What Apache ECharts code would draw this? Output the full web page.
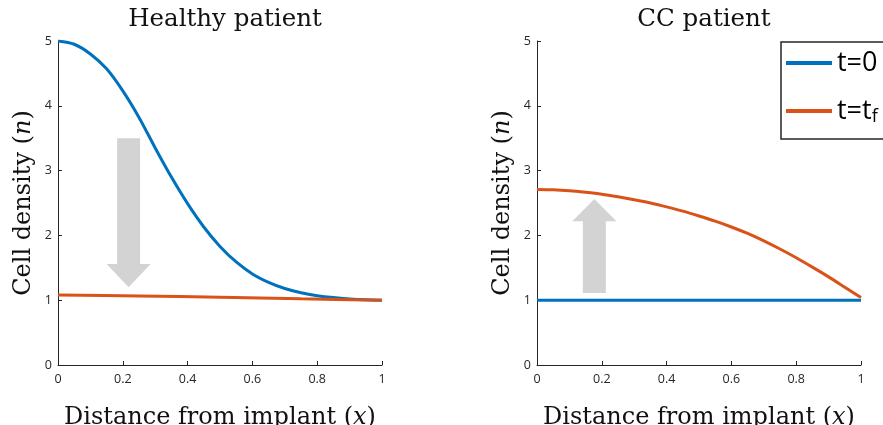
<!DOCTYPE html>
<html>
<head>
<meta charset="utf-8">
<script src="https://cdn.jsdelivr.net/npm/echarts@6/dist/echarts.min.js"></script>
<style>
html,body{margin:0;padding:0;background:#fff;}
#chart{width:883px;height:425px;}
</style>
</head>
<body>
<div id="chart"></div>
<script>
// ---- data ----
const panelTitles = ['Healthy patient', 'CC patient'];
const seriesNames = ['t=0', 't=t_f'];
const xs = [0, 0.05, 0.1, 0.15, 0.2, 0.25, 0.3, 0.35, 0.4, 0.45, 0.5, 0.55, 0.6, 0.65, 0.7, 0.75, 0.8, 0.85, 0.9, 0.95, 1];
const healthyInitial = [5.00, 4.95, 4.80, 4.57, 4.23, 3.82, 3.35, 2.90, 2.49, 2.13, 1.83, 1.59, 1.405, 1.275, 1.18, 1.115, 1.07, 1.04, 1.02, 1.007, 1.00];
const healthyFinalX = [0, 0.25, 0.5, 0.75, 1];
const healthyFinal = [1.08, 1.065, 1.045, 1.022, 1.00];
const ccInitialX = [0, 1];
const ccInitial = [1.0, 1.0];
const ccFinal = [2.71, 2.705, 2.69, 2.665, 2.635, 2.595, 2.55, 2.50, 2.44, 2.375, 2.30, 2.22, 2.13, 2.03, 1.915, 1.79, 1.655, 1.51, 1.36, 1.20, 1.04];
// arrows: [x, tail y, head-base y, tip y]
const healthyArrow = [0.218, 3.5, 1.56, 1.2];
const ccArrow = [0.177, 1.11, 2.22, 2.56];
const xTicks = {min: 0, max: 1, interval: 0.2};
const yTicks = {min: 0, max: 5, interval: 1};

const pairs = (x, y) => x.map((v, i) => [v, y[i]]);

const BLUE = '#0072BD', RED = '#D95319', AX = '#262626';
const SERIF = '"DejaVu Serif", serif';

function xAxisCfg(gi) {
  return {
    type: 'value', gridIndex: gi, min: xTicks.min, max: xTicks.max, interval: xTicks.interval,
    name: 'Distance from implant ({i|x})', nameLocation: 'middle', nameGap: 41,
    nameTextStyle: {fontFamily: SERIF, fontSize: 24, color: '#111',
      rich: {i: {fontFamily: SERIF, fontStyle: 'italic', fontSize: 24, color: '#111'}}},
    axisLine: {show: true, lineStyle: {color: AX, width: 1}},
    axisTick: {show: true, inside: true, length: 4, lineStyle: {color: AX}},
    axisLabel: {fontFamily: '"Open Sans", sans-serif', fontSize: 12.5, color: AX, margin: 8},
    splitLine: {show: false}
  };
}
function yAxisCfg(gi) {
  return {
    type: 'value', gridIndex: gi, min: yTicks.min, max: yTicks.max, interval: yTicks.interval,
    name: 'Cell density ({i|n})', nameLocation: 'middle', nameGap: 22, nameRotate: 90,
    nameTextStyle: {fontFamily: SERIF, fontSize: 24, color: '#111',
      rich: {i: {fontFamily: SERIF, fontStyle: 'italic', fontSize: 24, color: '#111'}}},
    axisLine: {show: true, lineStyle: {color: AX, width: 1}},
    axisTick: {show: true, inside: true, length: 4, lineStyle: {color: AX}},
    axisLabel: {fontFamily: '"Open Sans", sans-serif', fontSize: 12.5, color: AX, margin: 6},
    splitLine: {show: false}
  };
}

function arrowSeries(gi, arrow) {
  return {
    type: 'custom', xAxisIndex: gi, yAxisIndex: gi, z: 1, silent: true,
    data: [arrow],
    encode: {x: 0, y: [1, 2, 3]},
    renderItem: function (params, api) {
      const x = api.value(0);
      const tail = api.coord([x, api.value(1)]);
      const base = api.coord([x, api.value(2)]);
      const tip = api.coord([x, api.value(3)]);
      const sw = 11.5, hw = 22;
      return {
        type: 'polygon',
        shape: {points: [
          [tail[0] - sw, tail[1]], [tail[0] + sw, tail[1]],
          [base[0] + sw, base[1]], [base[0] + hw, base[1]],
          [tip[0], tip[1]],
          [base[0] - hw, base[1]], [base[0] - sw, base[1]]
        ]},
        style: {fill: '#D3D3D3'}
      };
    }
  };
}

function lineSeries(name, gi, data, color) {
  return {
    name: name, type: 'line', xAxisIndex: gi, yAxisIndex: gi, data: data,
    showSymbol: false, symbol: 'none', smooth: 0.3, z: 3,
    lineStyle: {color: color, width: 3}, itemStyle: {color: color}
  };
}

const chart = echarts.init(document.getElementById('chart'), null, {renderer: 'canvas'});
chart.setOption({
  backgroundColor: '#fff',
  animation: false,
  title: [
    {text: panelTitles[0], left: 220, top: 2, textAlign: 'center',
     textStyle: {fontFamily: SERIF, fontSize: 24.5, fontWeight: 'normal', color: '#111'}},
    {text: panelTitles[1], left: 699, top: 2, textAlign: 'center',
     textStyle: {fontFamily: SERIF, fontSize: 24.5, fontWeight: 'normal', color: '#111'}}
  ],
  grid: [
    {left: 58, right: 501, top: 41, bottom: 60, containLabel: false, outerBoundsMode: 'none'},
    {left: 537, right: 22, top: 41, bottom: 60, containLabel: false, outerBoundsMode: 'none'}
  ],
  xAxis: [xAxisCfg(0), xAxisCfg(1)],
  yAxis: [yAxisCfg(0), yAxisCfg(1)],
  legend: {
    data: seriesNames, orient: 'vertical', left: 781, top: 42,
    icon: 'rect', itemWidth: 46, itemHeight: 4, itemGap: 16,
    borderColor: AX, borderWidth: 1.5, padding: [6, 60, 13, 5],
    backgroundColor: '#fff',
    formatter: function (n) { return n === 't=t_f' ? 't=t{sub|f}' : n; },
    textStyle: {fontFamily: '"Open Sans", sans-serif', fontSize: 27, color: '#000', lineHeight: 30,
      rich: {sub: {fontFamily: '"Open Sans", sans-serif', fontSize: 18, color: '#000', lineHeight: 30, verticalAlign: 'bottom', padding: [14, 0, 0, 0]}}}
  },
  series: [
    arrowSeries(0, healthyArrow),
    lineSeries(seriesNames[0], 0, pairs(xs, healthyInitial), BLUE),
    lineSeries(seriesNames[1], 0, pairs(healthyFinalX, healthyFinal), RED),
    arrowSeries(1, ccArrow),
    lineSeries(seriesNames[0], 1, pairs(ccInitialX, ccInitial), BLUE),
    lineSeries(seriesNames[1], 1, pairs(xs, ccFinal), RED)
  ]
});
</script>
</body>
</html>
